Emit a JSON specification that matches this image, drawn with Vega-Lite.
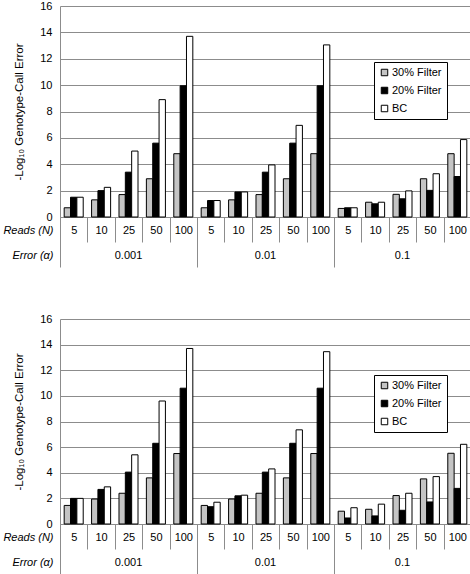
{
  "$schema": "https://vega.github.io/schema/vega-lite/v6.json",
  "padding": {"left": 2, "top": 0, "right": 2, "bottom": 0},
  "config": {
    "view": {"stroke": null},
    "font": "Liberation Sans",
    "axis": {"labelFont": "Liberation Sans", "titleFont": "Liberation Sans", "labelColor": "#000", "titleColor": "#000", "labelFontSize": 11, "titleFontSize": 11},
    "axisY": {"values": [0, 2, 4, 6, 8, 10, 12, 14, 16], "grid": true, "gridColor": "#8c8c8c", "domainColor": "#8c8c8c", "ticks": false, "labelPadding": 8, "titleFontWeight": "normal", "titleFontSize": 11.5, "titlePadding": 15, "labelOverlap": false},
    "legend": {"labelFont": "Liberation Sans", "labelFontSize": 11, "labelColor": "#000"}
  },
  "datasets": {
    "rows": [
      {"p": "a", "c": "0.001|5", "s": "30% Filter", "v": 0.7},
      {"p": "a", "c": "0.001|5", "s": "20% Filter", "v": 1.5},
      {"p": "a", "c": "0.001|5", "s": "BC", "v": 1.5},
      {"p": "a", "c": "0.001|10", "s": "30% Filter", "v": 1.3},
      {"p": "a", "c": "0.001|10", "s": "20% Filter", "v": 2.0},
      {"p": "a", "c": "0.001|10", "s": "BC", "v": 2.25},
      {"p": "a", "c": "0.001|25", "s": "30% Filter", "v": 1.7},
      {"p": "a", "c": "0.001|25", "s": "20% Filter", "v": 3.4},
      {"p": "a", "c": "0.001|25", "s": "BC", "v": 5.0},
      {"p": "a", "c": "0.001|50", "s": "30% Filter", "v": 2.9},
      {"p": "a", "c": "0.001|50", "s": "20% Filter", "v": 5.6},
      {"p": "a", "c": "0.001|50", "s": "BC", "v": 8.9},
      {"p": "a", "c": "0.001|100", "s": "30% Filter", "v": 4.8},
      {"p": "a", "c": "0.001|100", "s": "20% Filter", "v": 9.95},
      {"p": "a", "c": "0.001|100", "s": "BC", "v": 13.7},
      {"p": "a", "c": "0.01|5", "s": "30% Filter", "v": 0.7},
      {"p": "a", "c": "0.01|5", "s": "20% Filter", "v": 1.25},
      {"p": "a", "c": "0.01|5", "s": "BC", "v": 1.25},
      {"p": "a", "c": "0.01|10", "s": "30% Filter", "v": 1.3},
      {"p": "a", "c": "0.01|10", "s": "20% Filter", "v": 1.9},
      {"p": "a", "c": "0.01|10", "s": "BC", "v": 1.9},
      {"p": "a", "c": "0.01|25", "s": "30% Filter", "v": 1.7},
      {"p": "a", "c": "0.01|25", "s": "20% Filter", "v": 3.4},
      {"p": "a", "c": "0.01|25", "s": "BC", "v": 3.95},
      {"p": "a", "c": "0.01|50", "s": "30% Filter", "v": 2.9},
      {"p": "a", "c": "0.01|50", "s": "20% Filter", "v": 5.6},
      {"p": "a", "c": "0.01|50", "s": "BC", "v": 6.95},
      {"p": "a", "c": "0.01|100", "s": "30% Filter", "v": 4.8},
      {"p": "a", "c": "0.01|100", "s": "20% Filter", "v": 9.95},
      {"p": "a", "c": "0.01|100", "s": "BC", "v": 13.05},
      {"p": "a", "c": "0.1|5", "s": "30% Filter", "v": 0.65},
      {"p": "a", "c": "0.1|5", "s": "20% Filter", "v": 0.7},
      {"p": "a", "c": "0.1|5", "s": "BC", "v": 0.7},
      {"p": "a", "c": "0.1|10", "s": "30% Filter", "v": 1.12},
      {"p": "a", "c": "0.1|10", "s": "20% Filter", "v": 1.0},
      {"p": "a", "c": "0.1|10", "s": "BC", "v": 1.12},
      {"p": "a", "c": "0.1|25", "s": "30% Filter", "v": 1.72},
      {"p": "a", "c": "0.1|25", "s": "20% Filter", "v": 1.38},
      {"p": "a", "c": "0.1|25", "s": "BC", "v": 1.98},
      {"p": "a", "c": "0.1|50", "s": "30% Filter", "v": 2.9},
      {"p": "a", "c": "0.1|50", "s": "20% Filter", "v": 2.02},
      {"p": "a", "c": "0.1|50", "s": "BC", "v": 3.28},
      {"p": "a", "c": "0.1|100", "s": "30% Filter", "v": 4.8},
      {"p": "a", "c": "0.1|100", "s": "20% Filter", "v": 3.07},
      {"p": "a", "c": "0.1|100", "s": "BC", "v": 5.87},
      {"p": "b", "c": "0.001|5", "s": "30% Filter", "v": 1.45},
      {"p": "b", "c": "0.001|5", "s": "20% Filter", "v": 2.0},
      {"p": "b", "c": "0.001|5", "s": "BC", "v": 2.0},
      {"p": "b", "c": "0.001|10", "s": "30% Filter", "v": 1.95},
      {"p": "b", "c": "0.001|10", "s": "20% Filter", "v": 2.7},
      {"p": "b", "c": "0.001|10", "s": "BC", "v": 2.9},
      {"p": "b", "c": "0.001|25", "s": "30% Filter", "v": 2.4},
      {"p": "b", "c": "0.001|25", "s": "20% Filter", "v": 4.05},
      {"p": "b", "c": "0.001|25", "s": "BC", "v": 5.4},
      {"p": "b", "c": "0.001|50", "s": "30% Filter", "v": 3.6},
      {"p": "b", "c": "0.001|50", "s": "20% Filter", "v": 6.3},
      {"p": "b", "c": "0.001|50", "s": "BC", "v": 9.6},
      {"p": "b", "c": "0.001|100", "s": "30% Filter", "v": 5.5},
      {"p": "b", "c": "0.001|100", "s": "20% Filter", "v": 10.6},
      {"p": "b", "c": "0.001|100", "s": "BC", "v": 13.7},
      {"p": "b", "c": "0.01|5", "s": "30% Filter", "v": 1.45},
      {"p": "b", "c": "0.01|5", "s": "20% Filter", "v": 1.35},
      {"p": "b", "c": "0.01|5", "s": "BC", "v": 1.7},
      {"p": "b", "c": "0.01|10", "s": "30% Filter", "v": 1.95},
      {"p": "b", "c": "0.01|10", "s": "20% Filter", "v": 2.2},
      {"p": "b", "c": "0.01|10", "s": "BC", "v": 2.25},
      {"p": "b", "c": "0.01|25", "s": "30% Filter", "v": 2.4},
      {"p": "b", "c": "0.01|25", "s": "20% Filter", "v": 4.05},
      {"p": "b", "c": "0.01|25", "s": "BC", "v": 4.3},
      {"p": "b", "c": "0.01|50", "s": "30% Filter", "v": 3.6},
      {"p": "b", "c": "0.01|50", "s": "20% Filter", "v": 6.3},
      {"p": "b", "c": "0.01|50", "s": "BC", "v": 7.35},
      {"p": "b", "c": "0.01|100", "s": "30% Filter", "v": 5.5},
      {"p": "b", "c": "0.01|100", "s": "20% Filter", "v": 10.6},
      {"p": "b", "c": "0.01|100", "s": "BC", "v": 13.45},
      {"p": "b", "c": "0.1|5", "s": "30% Filter", "v": 1.0},
      {"p": "b", "c": "0.1|5", "s": "20% Filter", "v": 0.47},
      {"p": "b", "c": "0.1|5", "s": "BC", "v": 1.27},
      {"p": "b", "c": "0.1|10", "s": "30% Filter", "v": 1.15},
      {"p": "b", "c": "0.1|10", "s": "20% Filter", "v": 0.63},
      {"p": "b", "c": "0.1|10", "s": "BC", "v": 1.55},
      {"p": "b", "c": "0.1|25", "s": "30% Filter", "v": 2.22},
      {"p": "b", "c": "0.1|25", "s": "20% Filter", "v": 1.07},
      {"p": "b", "c": "0.1|25", "s": "BC", "v": 2.4},
      {"p": "b", "c": "0.1|50", "s": "30% Filter", "v": 3.52},
      {"p": "b", "c": "0.1|50", "s": "20% Filter", "v": 1.72},
      {"p": "b", "c": "0.1|50", "s": "BC", "v": 3.7},
      {"p": "b", "c": "0.1|100", "s": "30% Filter", "v": 5.52},
      {"p": "b", "c": "0.1|100", "s": "20% Filter", "v": 2.78},
      {"p": "b", "c": "0.1|100", "s": "BC", "v": 6.22}
    ]
  },
  "spacing": 45,
  "resolve": {"scale": {"fill": "independent"}, "legend": {"fill": "independent"}},
  "vconcat": [
    {
      "width": 411,
      "height": 211,
      "data": {"name": "rows"},
      "transform": [{"filter": "datum.p === 'a'"}],
      "resolve": {"axis": {"x": "independent"}},
      "layer": [
        {
          "mark": {"type": "bar", "stroke": "#000", "strokeWidth": 1},
          "encoding": {
            "x": {"field": "c", "type": "nominal", "sort": null,
              "scale": {"paddingInner": 0, "paddingOuter": 0},
              "axis": {"title": "Reads (N)", "labelExpr": "split(datum.value, '|')[1]", "labelAngle": 0, "tickBand": "extent", "tickSize": 25, "tickColor": "#8c8c8c", "domainColor": "#8c8c8c", "labelBaseline": "middle", "labelPadding": -12, "grid": false,
                "titleX": -7, "titleY": 13, "titleAlign": "right", "titleBaseline": "middle", "titleFontStyle": "italic", "titleFontWeight": "normal"}},
            "xOffset": {"field": "s", "type": "nominal", "sort": ["30% Filter", "20% Filter", "BC"], "scale": {"paddingInner": 0, "paddingOuter": 0.66}},
            "y": {"field": "v", "type": "quantitative", "stack": null, "scale": {"domain": [0, 16]}, "title": "-Log₁₀ Genotype-Call Error"},
            "fill": {"field": "s", "type": "nominal", "sort": ["30% Filter", "20% Filter", "BC"],
              "scale": {"domain": ["30% Filter", "20% Filter", "BC"], "range": ["#c4c4c4", "#000000", "#ffffff"]},
              "legend": {"title": null, "orient": "none", "legendX": 314, "legendY": 56, "strokeColor": "#000", "fillColor": "#fff", "padding": 5, "symbolType": "square", "symbolSize": 42, "symbolStrokeColor": "#000", "symbolStrokeWidth": 1, "rowPadding": 6, "labelOffset": 2}}
          }
        },
        {
          "mark": {"type": "point", "opacity": 0},
          "encoding": {
            "x": {"field": "c", "type": "nominal", "sort": null,
              "axis": {"orient": "bottom", "title": "Error (α)", "values": ["0.001|25", "0.01|25", "0.1|25"], "labelExpr": "split(datum.value, '|')[0]", "labelAngle": 0, "ticks": false, "domain": false, "labelBaseline": "middle", "labelPadding": 38, "grid": false,
                "titleX": -7, "titleY": 38, "titleAlign": "right", "titleBaseline": "middle", "titleFontStyle": "italic", "titleFontWeight": "normal"}},
            "y": {"field": "v", "type": "quantitative", "title": "-Log₁₀ Genotype-Call Error"}
          }
        },
        {
          "mark": {"type": "point", "opacity": 0},
          "encoding": {
            "x": {"field": "c", "type": "nominal", "sort": null,
              "axis": {"orient": "bottom", "title": null, "values": ["0.001|5", "0.01|5", "0.1|5"], "bandPosition": 0, "labels": false, "tickSize": 50, "tickColor": "#8c8c8c", "domain": false, "grid": false}},
            "y": {"field": "v", "type": "quantitative", "title": "-Log₁₀ Genotype-Call Error"}
          }
        }
      ]
    },
    {
      "width": 411,
      "height": 205,
      "data": {"name": "rows"},
      "transform": [{"filter": "datum.p === 'b'"}],
      "resolve": {"axis": {"x": "independent"}},
      "layer": [
        {
          "mark": {"type": "bar", "stroke": "#000", "strokeWidth": 1},
          "encoding": {
            "x": {"field": "c", "type": "nominal", "sort": null,
              "scale": {"paddingInner": 0, "paddingOuter": 0},
              "axis": {"title": "Reads (N)", "labelExpr": "split(datum.value, '|')[1]", "labelAngle": 0, "tickBand": "extent", "tickSize": 25, "tickColor": "#8c8c8c", "domainColor": "#8c8c8c", "labelBaseline": "middle", "labelPadding": -12, "grid": false,
                "titleX": -7, "titleY": 13, "titleAlign": "right", "titleBaseline": "middle", "titleFontStyle": "italic", "titleFontWeight": "normal"}},
            "xOffset": {"field": "s", "type": "nominal", "sort": ["30% Filter", "20% Filter", "BC"], "scale": {"paddingInner": 0, "paddingOuter": 0.66}},
            "y": {"field": "v", "type": "quantitative", "stack": null, "scale": {"domain": [0, 16]}, "title": "-Log₁₀ Genotype-Call Error"},
            "fill": {"field": "s", "type": "nominal", "sort": ["30% Filter", "20% Filter", "BC"],
              "scale": {"domain": ["30% Filter", "20% Filter", "BC"], "range": ["#c4c4c4", "#000000", "#ffffff"]},
              "legend": {"title": null, "orient": "none", "legendX": 314, "legendY": 56, "strokeColor": "#000", "fillColor": "#fff", "padding": 5, "symbolType": "square", "symbolSize": 42, "symbolStrokeColor": "#000", "symbolStrokeWidth": 1, "rowPadding": 6, "labelOffset": 2}}
          }
        },
        {
          "mark": {"type": "point", "opacity": 0},
          "encoding": {
            "x": {"field": "c", "type": "nominal", "sort": null,
              "axis": {"orient": "bottom", "title": "Error (α)", "values": ["0.001|25", "0.01|25", "0.1|25"], "labelExpr": "split(datum.value, '|')[0]", "labelAngle": 0, "ticks": false, "domain": false, "labelBaseline": "middle", "labelPadding": 38, "grid": false,
                "titleX": -7, "titleY": 38, "titleAlign": "right", "titleBaseline": "middle", "titleFontStyle": "italic", "titleFontWeight": "normal"}},
            "y": {"field": "v", "type": "quantitative", "title": "-Log₁₀ Genotype-Call Error"}
          }
        },
        {
          "mark": {"type": "point", "opacity": 0},
          "encoding": {
            "x": {"field": "c", "type": "nominal", "sort": null,
              "axis": {"orient": "bottom", "title": null, "values": ["0.001|5", "0.01|5", "0.1|5"], "bandPosition": 0, "labels": false, "tickSize": 50, "tickColor": "#8c8c8c", "domain": false, "grid": false}},
            "y": {"field": "v", "type": "quantitative", "title": "-Log₁₀ Genotype-Call Error"}
          }
        }
      ]
    }
  ]
}
